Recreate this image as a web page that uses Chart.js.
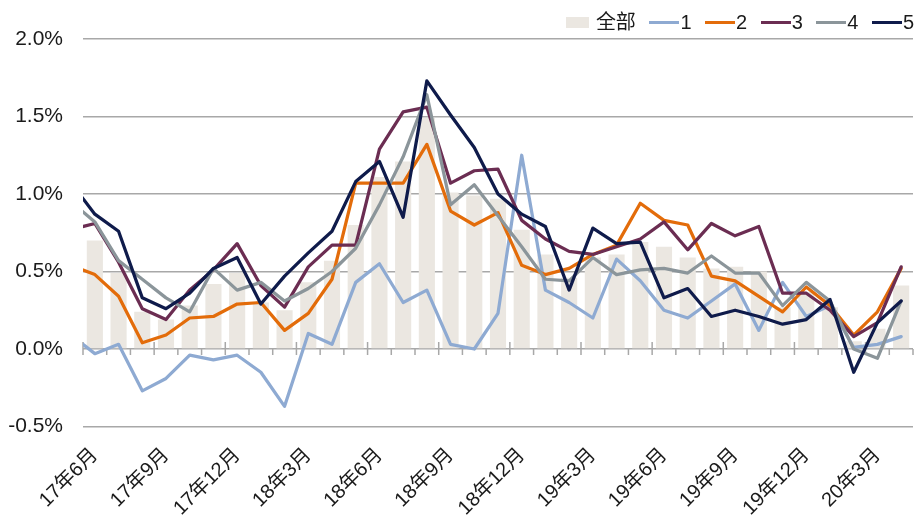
<!DOCTYPE html>
<html>
<head>
<meta charset="utf-8">
<title>chart</title>
<script src="https://cdn.jsdelivr.net/npm/chart.js@4.4.1/dist/chart.umd.min.js"></script>
<style>
  html, body { margin: 0; padding: 0; background: #fff; }
  #wrap { position: relative; width: 916px; height: 517px; }
  #legend {
    position: absolute; top: 12px; right: 2px;
    display: flex; align-items: center;
    font: 20px 'Liberation Sans', 'Noto Sans CJK SC', sans-serif;
    line-height: 20px; color: #1a1a1a;
  }
  #legend .item { display: flex; align-items: center; margin-left: 13.5px; }
  #legend .item:first-child { margin-left: 0; }
  #legend .sw-bar { width: 23px; height: 11px; margin-right: 7px; }
  #legend .sw-line { width: 30px; height: 3px; margin-right: 1px; }
</style>
</head>
<body>
<div id="wrap">
  <canvas id="chart" width="916" height="517"></canvas>
  <div id="legend"></div>
</div>
<script>
// months; the first one sits just left of the visible axis (line only enters from the edge)
const months = [
  '17年5月', '17年6月', '17年7月', '17年8月', '17年9月', '17年10月', '17年11月', '17年12月',
  '18年1月', '18年2月', '18年3月', '18年4月', '18年5月', '18年6月', '18年7月', '18年8月',
  '18年9月', '18年10月', '18年11月', '18年12月', '19年1月', '19年2月', '19年3月', '19年4月',
  '19年5月', '19年6月', '19年7月', '19年8月', '19年9月', '19年10月', '19年11月', '19年12月',
  '20年1月', '20年2月', '20年3月', '20年4月'
];

// values in %
const all = [null, 0.70, 0.49, 0.24, 0.19, 0.28, 0.42, 0.49, 0.30, 0.25, 0.43, 0.57, 0.80,
  1.11, 1.21, 1.49, 1.01, 0.99, 0.97, 0.77, 0.61, 0.46, 0.59, 0.61, 0.69, 0.66, 0.59,
  0.52, 0.53, 0.50, 0.27, 0.37, 0.27, 0.05, 0.13, 0.41];
const tier1 = [0.09, -0.03, 0.03, -0.27, -0.19, -0.04, -0.07, -0.04, -0.15, -0.37, 0.10, 0.03,
  0.43, 0.55, 0.30, 0.38, 0.03, 0.00, 0.23, 1.25, 0.38, 0.30, 0.20, 0.58, 0.44, 0.25,
  0.20, 0.31, 0.42, 0.12, 0.43, 0.21, 0.28, 0.01, 0.03, 0.08];
const tier2 = [0.54, 0.48, 0.34, 0.04, 0.09, 0.20, 0.21, 0.29, 0.30, 0.12, 0.23, 0.45, 1.07,
  1.07, 1.07, 1.32, 0.89, 0.80, 0.88, 0.54, 0.48, 0.52, 0.61, 0.67, 0.94, 0.83, 0.80,
  0.47, 0.44, 0.34, 0.24, 0.40, 0.28, 0.09, 0.24, 0.52];
const tier3 = [0.77, 0.81, 0.56, 0.26, 0.19, 0.38, 0.51, 0.68, 0.41, 0.27, 0.53, 0.67, 0.67,
  1.29, 1.53, 1.56, 1.07, 1.15, 1.16, 0.83, 0.71, 0.63, 0.61, 0.66, 0.71, 0.82, 0.64,
  0.81, 0.73, 0.79, 0.36, 0.36, 0.25, 0.08, 0.17, 0.53];
const tier4 = [0.95, 0.82, 0.57, 0.45, 0.33, 0.24, 0.52, 0.38, 0.43, 0.31, 0.39, 0.50, 0.65,
  0.93, 1.24, 1.64, 0.93, 1.06, 0.86, 0.66, 0.45, 0.44, 0.59, 0.48, 0.51, 0.52, 0.49,
  0.60, 0.49, 0.49, 0.28, 0.43, 0.31, 0.00, -0.06, 0.31];
const tier5 = [1.07, 0.87, 0.76, 0.33, 0.26, 0.36, 0.52, 0.59, 0.29, 0.47, 0.62, 0.76, 1.08,
  1.21, 0.85, 1.73, 1.51, 1.30, 1.00, 0.87, 0.79, 0.38, 0.78, 0.68, 0.69, 0.33, 0.39,
  0.21, 0.25, 0.21, 0.16, 0.19, 0.32, -0.15, 0.17, 0.31];

const yTicks = [-0.5, 0, 0.5, 1.0, 1.5, 2.0];

const FONT = "'Liberation Sans', 'Noto Sans CJK SC', sans-serif";
const GRID = '#a8a8a8';

function line(label, data, color, order) {
  return {
    type: 'line', label, data, order,
    borderColor: color, backgroundColor: color,
    borderWidth: 3.25, pointRadius: 0, tension: 0,
    borderJoinStyle: 'round', borderCapStyle: 'round'
  };
}

// tick marks on the 0% line: long every 3 months, short every month
const zeroTicks = {
  id: 'zeroTicks',
  beforeDatasetsDraw(chart) {
    const { ctx, scales: { x, y } } = chart;
    const y0 = y.getPixelForValue(0);
    ctx.save();
    ctx.strokeStyle = GRID;
    ctx.lineWidth = 1.5;
    ctx.beginPath();
    for (let v = x.min; v <= x.max + 1; v++) {
      const px = x.getPixelForValue(v - 0.5);
      const major = (v - x.min) % 3 === 0;
      ctx.moveTo(px, major ? y0 - 7 : y0);
      ctx.lineTo(px, y0 + 6);
    }
    ctx.stroke();
    ctx.restore();
  }
};

const chart = new Chart(document.getElementById('chart'), {
  data: {
    labels: months,
    datasets: [
      { type: 'bar', label: '全部', data: all, backgroundColor: '#ebe7e1', order: 6,
        barPercentage: 0.68, categoryPercentage: 1 },
      line('1', tier1, '#8eaad2', 5),
      line('2', tier2, '#e36c0a', 4),
      line('3', tier3, '#6b2d52', 3),
      line('4', tier4, '#8b959a', 2),
      line('5', tier5, '#0f1b4b', 1)
    ]
  },
  options: {
    responsive: false,
    animation: false,
    layout: { padding: { top: 39, right: 3, left: 0, bottom: 0 } },
    plugins: { legend: { display: false }, tooltip: { enabled: false } },
    scales: {
      x: {
        min: '17年6月',
        offset: true,
        border: { display: false },
        grid: { display: false },
        ticks: {
          autoSkip: false, maxRotation: 45, minRotation: 45, padding: 9,
          color: '#1a1a1a', font: { size: 20, family: FONT },
          callback(v) { return (v - 1) % 3 === 0 ? this.getLabelForValue(v) : ''; }
        },
        afterFit(s) {
          s.height = 90.5;
          s.paddingLeft = 0;
          s.paddingRight = 0;
        }
      },
      y: {
        min: -0.5, max: 2.0,
        border: { display: false },
        grid: { color: GRID, lineWidth: 1.5, drawTicks: false },
        afterBuildTicks(s) { s.ticks = yTicks.map(v => ({ value: v })); },
        ticks: {
          padding: 20, color: '#1a1a1a', font: { size: 21, family: FONT },
          callback: v => v.toFixed(1) + '%'
        },
        afterFit(s) { s.width = 83; }
      }
    }
  },
  plugins: [zeroTicks]
});

// html legend built from the datasets
const legendBox = document.getElementById('legend');
chart.data.datasets.forEach(ds => {
  const item = document.createElement('span');
  item.className = 'item';
  const sw = document.createElement('span');
  const isBar = ds.type === 'bar';
  sw.className = isBar ? 'sw-bar' : 'sw-line';
  sw.style.background = isBar ? ds.backgroundColor : ds.borderColor;
  const txt = document.createElement('span');
  txt.textContent = ds.label;
  item.append(sw, txt);
  legendBox.appendChild(item);
});
</script>
</body>
</html>
